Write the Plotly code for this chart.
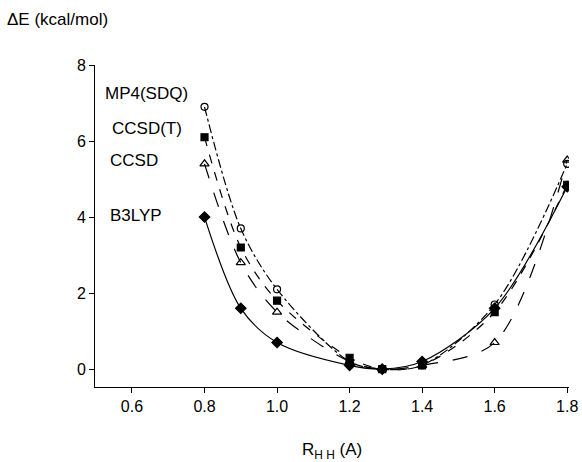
import plotly.graph_objects as go

r_hh = [0.8, 0.9, 1.0, 1.2, 1.29, 1.4, 1.6, 1.8]
mp4 = [6.9, 3.7, 2.1, 0.2, 0.0, 0.1, 1.7, 5.4]
ccsdt = [6.1, 3.2, 1.8, 0.3, 0.0, 0.1, 1.5, 4.85]
ccsd = [5.4, 2.8, 1.5, 0.2, 0.0, 0.1, 0.7, 5.5]
b3lyp = [4.0, 1.6, 0.7, 0.1, 0.0, 0.2, 1.6, 4.8]

method_names = ["MP4(SDQ)", "CCSD(T)", "CCSD", "B3LYP"]
tick_vals_x = [0.6, 0.8, 1.0, 1.2, 1.4, 1.6, 1.8]
tick_text_x = ["0.6", "0.8", "1.0", "1.2", "1.4", "1.6", "1.8"]
tick_vals_y = [0, 2, 4, 6, 8]

styles = [
    ("dashdot", "circle-open", 7),
    ("dash", "square", 7),
    ("longdash", "triangle-up-open", 8),
    ("solid", "diamond", 8),
]
label_pos = [(0.52, 7.26), (0.539, 6.34), (0.534, 5.5), (0.534, 4.05)]

FONT = "Liberation Sans, Arial, sans-serif"

fig = go.Figure()
for name, vals, (dash, sym, size) in zip(method_names, [mp4, ccsdt, ccsd, b3lyp], styles):
    fig.add_trace(go.Scatter(
        x=r_hh, y=vals, mode="lines+markers", name=name,
        line=dict(color="black", width=1.2, dash=dash, shape="spline", smoothing=0.9),
        marker=dict(symbol=sym, size=size, color="black",
                    line=dict(color="black", width=1.2)),
        showlegend=False,
    ))

for name, (lx, ly) in zip(method_names, label_pos):
    fig.add_annotation(x=lx, y=ly, text=name, xref="x", yref="y",
                       xanchor="left", yanchor="middle", showarrow=False,
                       font=dict(size=17, color="black", family=FONT))

fig.add_annotation(xref="paper", yref="paper", x=-0.19, y=1.14,
                   text="ΔE (kcal/mol)", xanchor="left", yanchor="middle",
                   showarrow=False, font=dict(size=17, color="black", family=FONT))
fig.add_annotation(xref="paper", yref="paper", x=0.5, y=-0.2,
                   text="R<sub>H H</sub> (A)", xanchor="center", yanchor="middle",
                   showarrow=False, font=dict(size=17, color="black", family=FONT))

fig.update_layout(
    width=582, height=462,
    margin=dict(l=95, r=13, t=65, b=75),
    paper_bgcolor="white", plot_bgcolor="white",
    font=dict(family=FONT, size=15, color="black"),
    xaxis=dict(range=[0.498, 1.805], tickvals=tick_vals_x, ticktext=tick_text_x,
               ticks="outside", ticklen=5, tickcolor="black", showline=True,
               linecolor="black", linewidth=1, showgrid=False, zeroline=False,
               automargin=False, tickfont=dict(size=16)),
    yaxis=dict(range=[-0.47, 8.0], tickvals=tick_vals_y,
               ticks="outside", ticklen=5, tickcolor="black", showline=True,
               linecolor="black", linewidth=1, showgrid=False, zeroline=False,
               automargin=False, tickfont=dict(size=16)),
)

fig.write_html("out.html", config={"displayModeBar": False},
               post_script="document.body.style.margin='0';document.body.style.overflow='hidden';")
